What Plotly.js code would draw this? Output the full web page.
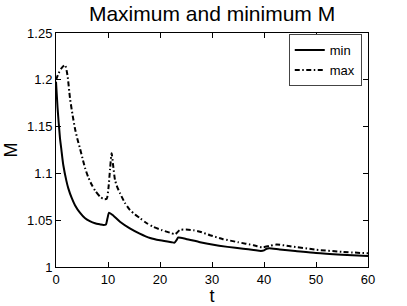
<!DOCTYPE html>
<html>
<head>
<meta charset="utf-8">
<script src="https://cdn.plot.ly/plotly-3.0.1.min.js"></script>
<style>html,body{margin:0;padding:0;background:#fff;}#chart{width:407px;height:306px;}</style>
</head>
<body>
<div id="chart"></div>
<script>
const minT = [0, 0.3, 0.77, 1.0, 1.4, 2.0, 2.37, 3.0, 3.65, 4.6, 5.6, 6.5, 7.5, 8.5, 9.1, 9.6, 9.9, 10.2, 11, 12.3, 14.2, 16, 18.1, 20, 22.2, 22.8, 23.2, 23.5, 25, 27.7, 30, 33, 36, 38, 39.4, 40.0, 40.5, 41, 43, 46, 50, 55, 60];
const minM = [1.198, 1.170, 1.1375, 1.127, 1.109, 1.092, 1.084, 1.074, 1.066, 1.058, 1.052, 1.049, 1.0467, 1.0455, 1.0449, 1.0455, 1.052, 1.058, 1.055, 1.0484, 1.0413, 1.036, 1.031, 1.0285, 1.0265, 1.026, 1.029, 1.0315, 1.030, 1.0265, 1.024, 1.0215, 1.0195, 1.0182, 1.0172, 1.0178, 1.0195, 1.0200, 1.0188, 1.0172, 1.0150, 1.0132, 1.0118];
const maxT = [0, 0.5, 1.0, 1.73, 2.2, 2.7, 3.2, 3.65, 4.1, 4.6, 5.1, 5.6, 6.2, 6.9, 7.6, 8.5, 9.2, 9.75, 10.1, 10.4, 10.7, 11.0, 11.35, 11.8, 12.3, 13.2, 14.2, 15.2, 16.2, 17.4, 18.7, 20.3, 21.9, 22.9, 23.8, 25, 26.5, 27.7, 29.6, 32, 35, 38, 39.6, 41, 42.4, 45, 50, 55, 60];
const maxM = [1.200, 1.207, 1.212, 1.2158, 1.205, 1.180, 1.162, 1.148, 1.137, 1.127, 1.116, 1.1055, 1.096, 1.0876, 1.081, 1.075, 1.0725, 1.073, 1.085, 1.105, 1.1215, 1.108, 1.093, 1.085, 1.079, 1.069, 1.061, 1.056, 1.052, 1.047, 1.043, 1.0395, 1.0367, 1.035, 1.0395, 1.040, 1.0392, 1.0377, 1.034, 1.030, 1.0265, 1.0232, 1.021, 1.0225, 1.0240, 1.0222, 1.0185, 1.0162, 1.0146];
const xTicks = [0, 10, 20, 30, 40, 50, 60];
const yTicks = [1, 1.05, 1.1, 1.15, 1.2, 1.25];
const yTickText = ['1', '1.05', '1.1', '1.15', '1.2', '1.25'];

const FONT = 'Liberation Sans, Arial, sans-serif';
const traces = [
  {x: minT, y: minM, name: 'min', mode: 'lines', line: {color: '#000', width: 2, shape: 'spline', smoothing: 0.6}},
  {x: maxT, y: maxM, name: 'max', mode: 'lines', line: {color: '#000', width: 2, dash: '5px,2.5px,1.5px,2.5px', shape: 'spline', smoothing: 0.6}}
];
const axisCommon = {
  showgrid: false, zeroline: false, showline: true, linecolor: '#000', linewidth: 1,
  mirror: 'ticks', ticks: 'inside', ticklen: 5, tickwidth: 1, tickcolor: '#000',
  tickfont: {family: FONT, size: 13, color: '#000'}
};
const layout = {
  width: 407, height: 306,
  margin: {l: 56, r: 39, t: 33, b: 39},
  paper_bgcolor: '#fff', plot_bgcolor: '#fff',
  font: {family: FONT, color: '#000'},
  title: {text: 'Maximum and minimum M', font: {family: FONT, size: 21, color: '#000'}, x: 0.521, xanchor: 'center', y: 0.955, yanchor: 'middle'},
  xaxis: Object.assign({}, axisCommon, {range: [0, 60], tickvals: xTicks, ticktext: xTicks.map(String),
    title: {text: 't', font: {family: FONT, size: 18, color: '#000'}, standoff: 0}}),
  yaxis: Object.assign({}, axisCommon, {range: [1, 1.25], tickvals: yTicks, ticktext: yTickText,
    title: {text: 'M', font: {family: FONT, size: 18, color: '#000'}, standoff: 4}}),
  showlegend: true,
  legend: {x: 0.98, y: 0.995, xanchor: 'right', yanchor: 'top', bgcolor: '#fff', bordercolor: '#444', borderwidth: 1,
    font: {family: FONT, size: 13, color: '#000'}, itemwidth: 30, tracegroupgap: 0}
};
Plotly.newPlot('chart', traces, layout, {staticPlot: true, displayModeBar: false});
</script>
</body>
</html>
